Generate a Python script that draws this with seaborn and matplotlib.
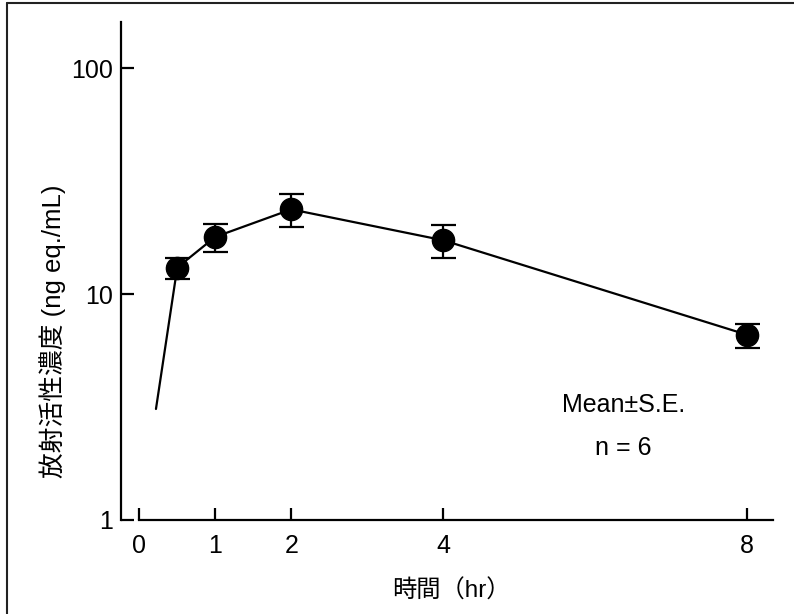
import numpy as np
import pandas as pd
import seaborn as sns
from matplotlib import pyplot as plt
from matplotlib.lines import Line2D

# time points (hr) and plasma radioactivity (ng eq./mL), mean and S.E.
hours = [0.5, 1, 2, 4, 8]
conc_mean = [13.1, 17.9, 23.7, 17.3, 6.6]
conc_se = [1.4, 2.5, 3.9, 2.9, 0.8]
# line start (absorption phase, no marker)
line_start_hr = 0.22
line_start_conc = 3.1

x_ticks = [0, 1, 2, 4, 8]
y_ticks = [1, 10, 100]

sns.set_theme(style="ticks")
plt.rcParams['font.family'] = ['Liberation Sans', 'Noto Sans CJK JP', 'DejaVu Sans']
plt.rcParams['text.color'] = 'black'

fig = plt.figure(figsize=(7.94, 6.14), dpi=100)
ax = fig.add_axes([0.1524, 0.1531, 0.8212, 0.8111])

line_df = pd.DataFrame({
    "hr": [line_start_hr] + hours,
    "conc": [line_start_conc] + conc_mean,
})
sns.lineplot(data=line_df, x="hr", y="conc", ax=ax, color="black", lw=1.6,
             errorbar=None, sort=False)
ax.errorbar(hours, conc_mean, yerr=conc_se, fmt="o", color="black",
            markersize=16, elinewidth=1.6, capsize=9, capthick=1.6, zorder=3)

ax.set_yscale("log")
ax.set_xlim(-0.24, 8.34)
ax.set_ylim(1, 160)
ax.set_xticks(x_ticks)
ax.set_xticklabels([str(t) for t in x_ticks])
ax.set_yticks(y_ticks)
ax.set_yticklabels([str(t) for t in y_ticks])
ax.yaxis.set_minor_locator(plt.NullLocator())

sns.despine(ax=ax)
for sp in ["left", "bottom"]:
    ax.spines[sp].set_linewidth(1.6)
    ax.spines[sp].set_color("black")
ax.spines["bottom"].set_bounds(0, 8.34)

ax.tick_params(axis="both", direction="in", width=1.6, color="black",
               labelsize=18, labelcolor="black")
ax.tick_params(axis="y", length=9.5, pad=5.5)
ax.tick_params(axis="x", length=8.5, pad=10)

ax.set_xlabel("時間（hr）", fontsize=17.5, color="black")
ax.set_ylabel("放射活性濃度 (ng eq./mL)", fontsize=18.5, color="black")
ax.xaxis.set_label_coords(0.506, -0.119)
ax.yaxis.set_label_coords(-0.085, 0.38)

ax.text(6.37, 3.23, "Mean±S.E.", fontsize=18, ha="center", va="center", color="black")
ax.text(6.37, 2.08, "n = 6", fontsize=18, ha="center", va="center", color="black")

# frame around the figure (top and left edges visible)
fig.add_artist(Line2D([0.0088, 0.0088], [0, 0.9943], transform=fig.transFigure,
                      color="#222222", lw=1.5))
fig.add_artist(Line2D([0.0088, 1], [0.9943, 0.9943], transform=fig.transFigure,
                      color="#222222", lw=1.5))

fig.savefig("out.png", dpi=100)
